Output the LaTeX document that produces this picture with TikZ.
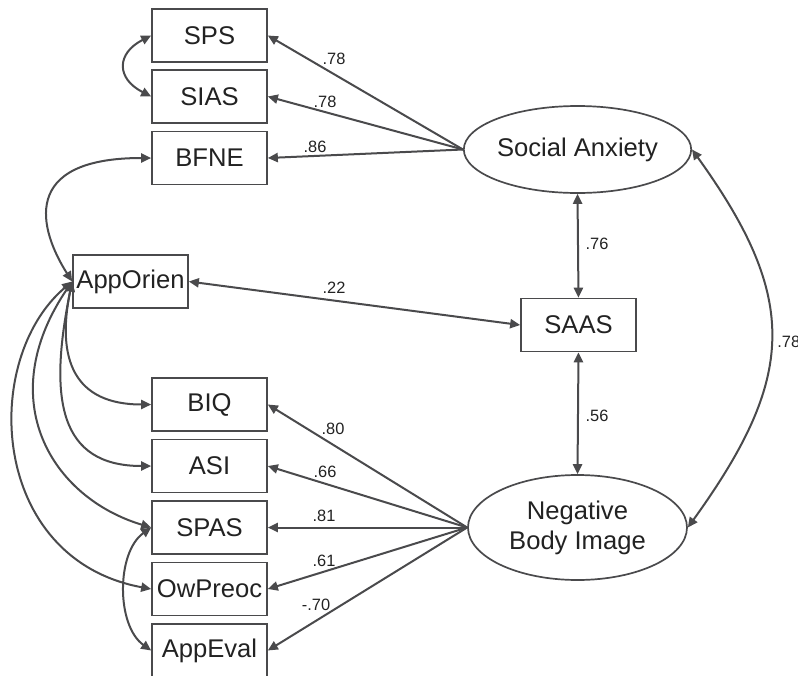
\documentclass[tikz,border=0pt]{standalone}
\usepackage{fontspec}
\setmainfont{Liberation Sans}
\usetikzlibrary{shapes.geometric,arrows.meta}
\definecolor{ln}{HTML}{4A4A4C}
\definecolor{tx}{HTML}{222222}
\tikzset{
  box/.style={draw=ln, line width=0.85pt, minimum width=57.5pt, minimum height=26.5pt, inner sep=0pt, text=tx, font=\fontsize{12.8}{15}\selectfont},
  latent/.style={draw=ln, line width=0.85pt, ellipse, inner sep=0pt, text=tx, align=center, font=\fontsize{12.8}{15}\selectfont},
  coef/.style={text=tx, inner sep=0pt, font=\fontsize{8.2}{10}\selectfont},
  path/.style={draw=ln, line width=1pt, -{Triangle[length=5pt,width=4.6pt]}},
  cov/.style={draw=ln, line width=1pt, {Triangle[length=5pt,width=4.6pt]}-{Triangle[length=5pt,width=4.6pt]}}
}
\begin{document}
\begin{tikzpicture}[x=0.5pt,y=-0.5pt]
\useasboundingbox (0,0) rectangle (798,675);
% observed
\node[box] (SPS) at (209.5,35.5) {SPS};
\node[box] (SIAS) at (209.5,96.5) {SIAS};
\node[box] (BFNE) at (209.5,158) {BFNE};
\node[box] (AppOrien) at (130.5,281.5) {AppOrien};
\node[box] (BIQ) at (209.5,404.5) {BIQ};
\node[box] (ASI) at (209.5,466) {ASI};
\node[box] (SPAS) at (209.5,527.5) {SPAS};
\node[box] (OwPreoc) at (209.5,589) {OwPreoc};
\node[box] (AppEval) at (209.5,650.5) {AppEval};
\node[box] (SAAS) at (578.5,325) {SAAS};
% latent
\node[latent, minimum width=109.5pt, minimum height=43.5pt] (SA) at (577.5,149.5) {Social Anxiety};
\node[latent, minimum width=109.5pt, minimum height=52.5pt] (NBI) at (577.5,527.5) {Negative\\Body Image};
% loadings
\draw[path] (SA.west) -- (SPS.east);
\draw[path] (SA.west) -- (SIAS.east);
\draw[path] (SA.west) -- (BFNE.east);
\draw[path] (NBI.west) -- (BIQ.east);
\draw[path] (NBI.west) -- (ASI.east);
\draw[path] (NBI.west) -- (SPAS.east);
\draw[path] (NBI.west) -- (OwPreoc.east);
\draw[path] (NBI.west) -- (AppEval.east);
% covariances
\draw[cov] (AppOrien.east) -- (SAAS.west);
\draw[cov] (SA.south) -- (SAAS.north);
\draw[cov] (SAAS.south) -- (NBI.north);
\draw[cov] (SA.east) .. controls +(108,150) and +(108,-150) .. (NBI.east);
\draw[cov] (SPS.west) .. controls +(-35,18) and +(-35,-18) .. (SIAS.west);
\draw[cov] (SPAS.west) .. controls +(-35,25) and +(-35,-25) .. (AppEval.west);
\draw[cov] (BFNE.west) .. controls +(-132,0) and +(-33,-52) .. (AppOrien.west);
\draw[cov] (AppOrien.west) .. controls +(-16,78) and +(-77,0) .. (BIQ.west);
\draw[cov] (AppOrien.west) .. controls +(-24,118) and +(-92,0) .. (ASI.west);
\draw[cov] (AppOrien.west) .. controls +(-80,118) and +(-100,-30) .. (SPAS.west);
\draw[cov] (AppOrien.west) .. controls +(-92,78) and +(-162,-30) .. (OwPreoc.west);
% coefficients
\node[coef] (c1) at (334,59) {.78};
\node[coef] (c2) at (325,102) {.78};
\node[coef] (c3) at (315,147) {.86};
\node[coef] (c4) at (334,288) {.22};
\node[coef] (c5) at (333,429) {.80};
\node[coef] (c6) at (325,472) {.66};
\node[coef] (c7) at (324,516) {.81};
\node[coef] (c8) at (324,561) {.61};
\node[coef] (c9) at (316,605) {-.70};
\node[coef] (c10) at (597,244) {.76};
\node[coef] (c11) at (597,416) {.56};
\node[coef, anchor=west] (c12) at (777,342) {.78};
\end{tikzpicture}
\end{document}
